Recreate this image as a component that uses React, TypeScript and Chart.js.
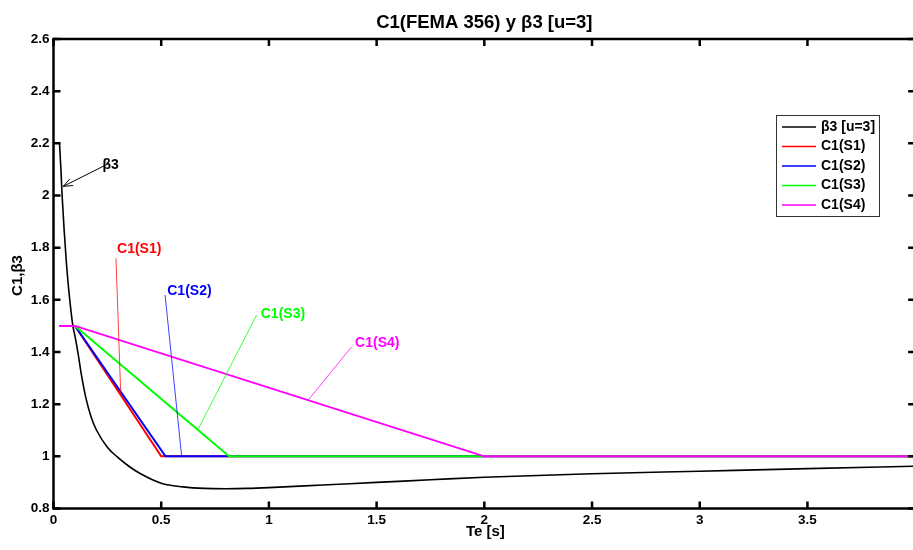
import React, { useEffect, useRef } from "react";
import { Chart, registerables } from "chart.js";

Chart.register(...registerables);

// ---- data ----
const periodT = [0.028, 0.035, 0.04, 0.05, 0.06, 0.07, 0.08, 0.09, 0.1, 0.115, 0.13, 0.15, 0.175, 0.2, 0.25, 0.3, 0.35, 0.4, 0.5, 0.6, 0.7, 0.8, 0.9, 1.0, 1.25, 1.5, 1.75, 2.0, 2.5, 3.0, 3.5, 4.0];
const beta3 = [2.2, 2.09, 2.0, 1.86, 1.74, 1.645, 1.565, 1.5, 1.46, 1.39, 1.31, 1.225, 1.15, 1.1, 1.035, 0.995, 0.962, 0.935, 0.897, 0.883, 0.877, 0.876, 0.877, 0.88, 0.89, 0.9, 0.91, 0.92, 0.933, 0.943, 0.953, 0.962];

const c1S1T = [0.028, 0.1, 0.5, 4.0];
const c1S1 = [1.5, 1.5, 1.0, 1.0];
const c1S2T = [0.028, 0.1, 0.52, 4.0];
const c1S2 = [1.5, 1.5, 1.0, 1.0];
const c1S3T = [0.028, 0.1, 0.815, 4.0];
const c1S3 = [1.5, 1.5, 1.0, 1.0];
const c1S4T = [0.028, 0.1, 2.0, 4.0];
const c1S4 = [1.5, 1.5, 1.0, 1.0];

const seriesLabels = ["β3 [u=3]", "C1(S1)", "C1(S2)", "C1(S3)", "C1(S4)"];
const seriesColors = ["#000000", "#ff0000", "#0000ff", "#00ff00", "#ff00ff"];

const xTicks = [0, 0.5, 1, 1.5, 2, 2.5, 3, 3.5, 4];
const yTicks = [0.8, 1.0, 1.2, 1.4, 1.6, 1.8, 2.0, 2.2, 2.4, 2.6];

const titleText = "C1(FEMA 356) y β3 [u=3]";
const xLabelText = "Te [s]";
const yLabelText = "C1,β3";

// annotations (data coordinates)
const annTexts = ["β3", "C1(S1)", "C1(S2)", "C1(S3)", "C1(S4)"];
const annColors = ["#000000", "#ff0000", "#0000ff", "#00ff00", "#ff00ff"];
const annTextT = [0.265, 0.398, 0.631, 1.065, 1.503];
const annTextV = [2.117, 1.794, 1.635, 1.545, 1.433];
const annFromT = [0.255, 0.290, 0.518, 0.943, 1.384];
const annFromV = [2.122, 1.759, 1.619, 1.542, 1.420];
const annToT = [0.045, 0.312, 0.595, 0.672, 1.183];
const annToV = [2.035, 1.242, 1.0, 1.105, 1.216];
const annArrow = [true, false, false, false, false];

const FONT = "Arial, 'Liberation Sans', Helvetica, sans-serif";
const X_FULL = 4;

const fmt = (v: number) => String(Math.round(v * 10) / 10);

const framePlugin = {
  id: "matlabFrame",
  afterDatasetsDraw(chart: any) {
    const { ctx, chartArea, scales } = chart;
    const xs = scales.x;
    const ys = scales.y;
    const left = chartArea.left;
    const top = chartArea.top;
    const bottom = chartArea.bottom;
    const right = xs.getPixelForValue(X_FULL);
    ctx.save();
    ctx.strokeStyle = "#000";
    ctx.lineWidth = 2.5;
    ctx.lineCap = "butt";
    ctx.beginPath();
    ctx.moveTo(left, top);
    ctx.lineTo(right, top);
    ctx.lineTo(right, bottom);
    ctx.lineTo(left, bottom);
    ctx.closePath();
    ctx.stroke();
    const tl = 7;
    ctx.beginPath();
    xTicks.forEach((v) => {
      const px = xs.getPixelForValue(v);
      ctx.moveTo(px, bottom);
      ctx.lineTo(px, bottom - tl);
      ctx.moveTo(px, top);
      ctx.lineTo(px, top + tl);
    });
    yTicks.forEach((v) => {
      const py = ys.getPixelForValue(v);
      ctx.moveTo(left, py);
      ctx.lineTo(left + tl, py);
      ctx.moveTo(right, py);
      ctx.lineTo(right - tl, py);
    });
    ctx.stroke();
    ctx.restore();
  },
  afterDraw(chart: any) {
    const { ctx, chartArea, scales } = chart;
    const xs = scales.x;
    const ys = scales.y;
    const right = xs.getPixelForValue(X_FULL);
    const cx = (chartArea.left + right) / 2;
    ctx.save();
    ctx.fillStyle = "#000";
    // title
    ctx.font = `bold 18.5px ${FONT}`;
    ctx.textAlign = "center";
    ctx.textBaseline = "alphabetic";
    ctx.fillText(titleText, cx, 28);
    // x label
    ctx.font = `bold 15px ${FONT}`;
    ctx.fillText(xLabelText, cx + 1, 536);
    // y label
    ctx.save();
    ctx.translate(22, 275.5);
    ctx.rotate(-Math.PI / 2);
    ctx.font = `bold 15px ${FONT}`;
    ctx.fillText(yLabelText, 0, 0);
    ctx.restore();

    // annotations
    annTexts.forEach((t, i) => {
      const x1 = xs.getPixelForValue(annFromT[i]);
      const y1 = ys.getPixelForValue(annFromV[i]);
      const x2 = xs.getPixelForValue(annToT[i]);
      const y2 = ys.getPixelForValue(annToV[i]);
      ctx.strokeStyle = annColors[i];
      ctx.globalAlpha = annArrow[i] ? 1 : 0.75;
      ctx.lineWidth = 1;
      ctx.beginPath();
      ctx.moveTo(x1, y1);
      ctx.lineTo(x2, y2);
      ctx.stroke();
      if (annArrow[i]) {
        const ang = Math.atan2(y2 - y1, x2 - x1);
        const hl = 10;
        const ha = 0.38;
        ctx.beginPath();
        ctx.moveTo(x2 - hl * Math.cos(ang - ha), y2 - hl * Math.sin(ang - ha));
        ctx.lineTo(x2, y2);
        ctx.lineTo(x2 - hl * Math.cos(ang + ha), y2 - hl * Math.sin(ang + ha));
        ctx.stroke();
      }
      ctx.globalAlpha = 1;
      ctx.fillStyle = annColors[i];
      ctx.font = `bold 14px ${FONT}`;
      ctx.textAlign = "center";
      ctx.textBaseline = "middle";
      ctx.fillText(t, xs.getPixelForValue(annTextT[i]), ys.getPixelForValue(annTextV[i]));
    });

    // legend
    const bx = 776.5, by = 115.5, bw = 103, bh = 101;
    ctx.fillStyle = "#fff";
    ctx.fillRect(bx, by, bw, bh);
    ctx.strokeStyle = "#333";
    ctx.lineWidth = 1;
    ctx.strokeRect(bx, by, bw, bh);
    chart.data.datasets.forEach((ds: any, i: number) => {
      const ly = 127 + i * 19.5;
      ctx.strokeStyle = ds.borderColor;
      ctx.lineWidth = 1.5;
      ctx.beginPath();
      ctx.moveTo(782, ly);
      ctx.lineTo(816, ly);
      ctx.stroke();
      ctx.fillStyle = "#000";
      ctx.font = `bold 14px ${FONT}`;
      ctx.textAlign = "left";
      ctx.textBaseline = "middle";
      ctx.fillText(ds.label, 821, ly);
    });
    ctx.restore();
  },
};

const toPts = (xs: number[], ys: number[]) => xs.map((x, i) => ({ x, y: ys[i] }));

export default function App() {
  const ref = useRef<HTMLCanvasElement | null>(null);
  useEffect(() => {
    if (!ref.current) return;
    const seriesData = [
      toPts(periodT, beta3),
      toPts(c1S1T, c1S1),
      toPts(c1S2T, c1S2),
      toPts(c1S3T, c1S3),
      toPts(c1S4T, c1S4),
    ];
    const chart = new Chart(ref.current, {
      type: "line",
      data: {
        datasets: seriesData.map((d, i) => ({
          label: seriesLabels[i],
          data: d,
          borderColor: seriesColors[i],
          backgroundColor: seriesColors[i],
          borderWidth: i === 0 ? 1.6 : 2,
          pointRadius: 0,
          fill: false,
          order: 5 - i,
          cubicInterpolationMode: i === 0 ? "monotone" : "default",
          tension: 0,
        })),
      },
      options: {
        responsive: false,
        animation: false,
        devicePixelRatio: 1,
        layout: { padding: { top: 39, left: 0, right: 0, bottom: 0 } },
        plugins: {
          legend: { display: false },
          title: { display: false },
          tooltip: { enabled: false },
        },
        scales: {
          x: {
            type: "linear",
            min: 0,
            max: 3.99,
            afterBuildTicks: (s: any) => {
              s.ticks = xTicks.filter((v) => v <= 3.99).map((v) => ({ value: v }));
            },
            afterFit: (s: any) => {
              s.height = 41.5;
            },
            grid: { display: false, drawTicks: false },
            border: { display: false },
            ticks: {
              color: "#000",
              font: { family: FONT, size: 13.5, weight: "bold" },
              padding: 4,
              maxRotation: 0,
              autoSkip: false,
              callback: (v: any) => fmt(Number(v)),
            },
          },
          y: {
            type: "linear",
            min: 0.8,
            max: 2.6,
            afterBuildTicks: (s: any) => {
              s.ticks = yTicks.map((v) => ({ value: v }));
            },
            afterFit: (s: any) => {
              s.width = 53.5;
            },
            grid: { display: false, drawTicks: false },
            border: { display: false },
            ticks: {
              color: "#000",
              font: { family: FONT, size: 13.5, weight: "bold" },
              padding: 4,
              autoSkip: false,
              callback: (v: any) => fmt(Number(v)),
            },
          },
        },
      } as any,
      plugins: [framePlugin],
    });
    return () => chart.destroy();
  }, []);
  return (
    <div style={{ position: "fixed", left: 0, top: 0, width: 913, height: 550, background: "#fff" }}>
      <canvas ref={ref} width={913} height={550} style={{ display: "block" }} />
    </div>
  );
}
